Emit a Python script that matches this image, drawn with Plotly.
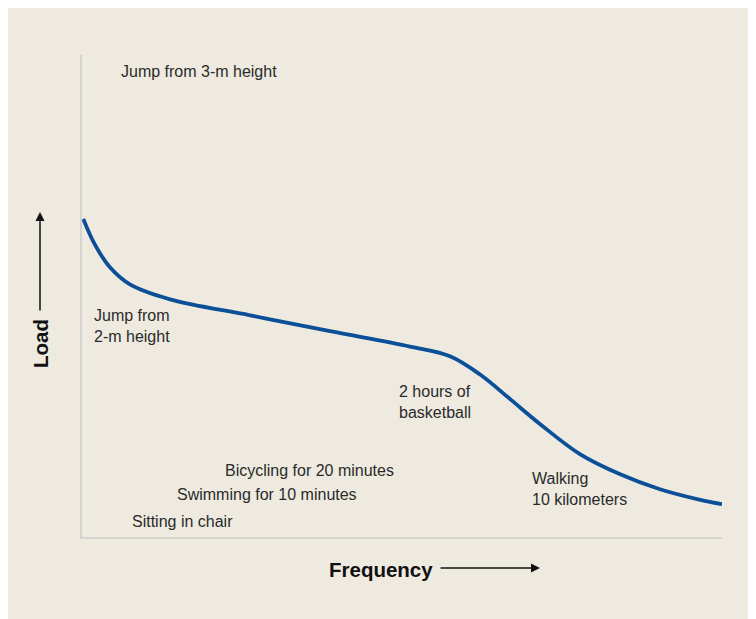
import plotly.graph_objects as go

# Curve (arbitrary units, 0-100 on both axes)
freq = [0.2, 2.0, 4.4, 7.5, 13.75, 26.25, 38.75, 51.25, 57.5, 62.2, 66.9, 71.6, 77.8, 84.1, 90.3, 96.6, 100]
load = [66.0, 60.7, 55.9, 52.4, 49.3, 46.0, 42.7, 39.5, 37.5, 33.7, 28.6, 23.4, 17.2, 13.0, 9.9, 7.7, 6.8]

# Labels: text, x, y (data units, left aligned, vertically centred)
label_text = ["Jump from 3-m height", "Jump from<br>2-m height", "2 hours of<br>basketball",
              "Walking<br>10 kilometers", "Bicycling for 20 minutes",
              "Swimming for 10 minutes", "Sitting in chair"]
label_x = [5.8, 1.5, 49.2, 70.0, 22.0, 14.5, 7.5]
label_y = [96.5, 43.8, 28.0, 9.9, 13.7, 8.9, 3.3]

BG = "#eeeae0"
FONT = "Liberation Sans, Arial"
fig = go.Figure()
fig.add_trace(go.Scatter(x=freq, y=load, mode="lines",
                         line=dict(color="#0b4f98", width=3.8, shape="spline", smoothing=1.0),
                         hoverinfo="skip", showlegend=False))

for t, x, y in zip(label_text, label_x, label_y):
    fig.add_annotation(x=x, y=y, xref="x", yref="y", text=t, showarrow=False,
                       xanchor="left", yanchor="middle", align="left",
                       font=dict(family=FONT, size=16, color="#2a2a2a"))

# plot area in page pixels: x 82..722, y 55..537  (width 640, height 482)
def px(x):
    return (x - 82) / 640

def py(y):
    return (537 - y) / 482

fig.add_annotation(xref="paper", yref="paper", x=px(327), y=py(569),
                   text="<b>Frequency</b>", showarrow=False, xanchor="left", yanchor="middle",
                   font=dict(family=FONT, size=20.5, color="#111"))
fig.add_annotation(xref="paper", yref="paper", x=px(540), y=py(568),
                   ax=-101, ay=0, text="", showarrow=True, arrowhead=2, arrowsize=1.2,
                   arrowwidth=1.5, arrowcolor="#111")
fig.add_annotation(xref="paper", yref="paper", x=px(40), y=py(344),
                   text="<b>Load</b>", showarrow=False, textangle=-90, xanchor="center", yanchor="middle",
                   font=dict(family=FONT, size=20.5, color="#111"))
fig.add_annotation(xref="paper", yref="paper", x=px(40), y=py(212),
                   ax=0, ay=100, text="", showarrow=True, arrowhead=2, arrowsize=1.2,
                   arrowwidth=1.5, arrowcolor="#111")

axis_common = dict(showgrid=False, zeroline=False, showticklabels=False, ticks="",
                   showline=True, linecolor="#d6d4d0", linewidth=1.5, fixedrange=True)
fig.update_xaxes(range=[0, 100], **axis_common)
fig.update_yaxes(range=[0, 100], **axis_common)
fig.update_layout(width=756, height=619, paper_bgcolor=BG, plot_bgcolor=BG,
                  margin=dict(l=74, r=42, t=47, b=90), showlegend=False)

fig.write_html("out.html")
